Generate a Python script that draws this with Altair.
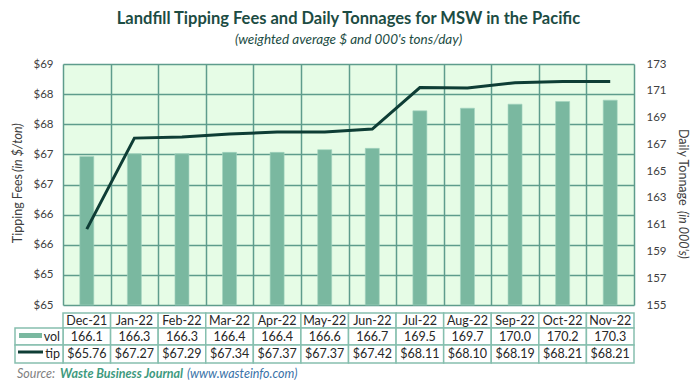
import altair as alt
import pandas as pd

months = ["Dec-21", "Jan-22", "Feb-22", "Mar-22", "Apr-22", "May-22",
          "Jun-22", "Jul-22", "Aug-22", "Sep-22", "Oct-22", "Nov-22"]
vol = [166.1, 166.3, 166.3, 166.4, 166.4, 166.6, 166.7, 169.5, 169.7, 170.0, 170.2, 170.3]
tip = [65.76, 67.27, 67.29, 67.34, 67.37, 67.37, 67.42, 68.11, 68.10, 68.19, 68.21, 68.21]
tip_ticks = [64.5, 65.0, 65.5, 66.0, 66.5, 67.0, 67.5, 68.0, 68.5]
vol_ticks = [155, 157, 159, 161, 163, 165, 167, 169, 171, 173]

df = pd.DataFrame({
    "month": months,
    "vol": vol,
    "tip": tip,
    "vol_label": [f"{v:.1f}" for v in vol],
    "tip_label": [f"${t:.2f}" for t in tip],
})
one = pd.DataFrame({"k": [0]})

FONT = "Lato"
GRID = "#5E9C8C"
TBL = "#86BFAF"
BAR = "#7AB8A0"
LINE = "#0E3D35"
TXT = "#262626"
LAB = "#404040"
TEAL_DARK = "#1C4C43"
TEAL = "#3E9A7E"
BLUE = "#3A72A8"

x_enc = alt.X(
    "month:N", sort=months,
    scale=alt.Scale(paddingInner=0, paddingOuter=0),
    axis=alt.Axis(grid=True, tickBand="extent", labels=False, ticks=False,
                  domain=False, title=None, gridColor=GRID, gridWidth=1.5),
)

base = alt.Chart(df)

bars = base.mark_bar(size=14, color=BAR, stroke="#A3D3C0", strokeWidth=0.6).encode(
    x=x_enc,
    y=alt.Y("vol:Q",
            scale=alt.Scale(domain=[155, 173], nice=False, zero=False),
            axis=alt.Axis(orient="right", values=vol_ticks, title=None, grid=False,
                          ticks=False, domain=False, labelPadding=12, labelFont=FONT,
                          labelFontSize=11.5, labelColor=LAB)),
    y2=alt.datum(155),
)

line = base.mark_line(color=LINE, strokeWidth=3).encode(
    x=x_enc,
    y=alt.Y("tip:Q",
            scale=alt.Scale(domain=[64.5, 68.5], nice=False, zero=False),
            axis=alt.Axis(orient="left", values=tip_ticks, format="$.0f", title=None,
                          grid=True, gridColor=GRID, gridWidth=1.5, ticks=False,
                          domain=False, labelPadding=10, labelFont=FONT,
                          labelFontSize=11.5, labelColor=LAB)),
)

# ---- data table under the plot ----
def cell(y0, y1):
    return base.mark_rect(fill="white", stroke=TBL, strokeWidth=1.5).encode(
        x=x_enc, y=alt.value(y0), y2=alt.value(y1))

hdr_cells = cell(249, 264)
vol_cells = cell(264, 281)
tip_cells = cell(281, 299)

lab_cells = alt.Chart(pd.DataFrame({"y0": [264, 281], "y1": [281, 299]})).mark_rect(
    fill="white", stroke=TBL, strokeWidth=1.5).encode(
    x=alt.value(-48), x2=alt.value(0),
    y=alt.Y("y0:Q", scale=None), y2="y1:Q")

txt = dict(font=FONT, fontSize=12.5, color=TXT, baseline="middle")
hdr_txt = base.mark_text(**txt).encode(x=x_enc, y=alt.value(256.5), text="month:N")
vol_txt = base.mark_text(**txt).encode(x=x_enc, y=alt.value(272.5), text="vol_label:N")
tip_txt = base.mark_text(**txt).encode(x=x_enc, y=alt.value(290), text="tip_label:N")

lab_vol = alt.Chart(one).mark_text(align="right", **txt).encode(
    x=alt.value(-3), y=alt.value(272.5), text=alt.value("vol"))
lab_tip = alt.Chart(one).mark_text(align="right", **txt).encode(
    x=alt.value(-3), y=alt.value(290), text=alt.value("tip"))
sw_vol = alt.Chart(one).mark_rect(color=BAR).encode(
    x=alt.value(-44), x2=alt.value(-21), y=alt.value(269), y2=alt.value(274))
sw_tip = alt.Chart(one).mark_rule(color=LINE, strokeWidth=3).encode(
    x=alt.value(-45), x2=alt.value(-20), y=alt.value(288))

# ---- axis titles (mixed styles) ----
at = dict(font=FONT, fontSize=12.5, color=LAB, baseline="middle")
lt1 = alt.Chart(one).mark_text(angle=270, align="right", **at).encode(
    x=alt.value(-45), y=alt.value(110), text=alt.value("Tipping Fees"))
lt2 = alt.Chart(one).mark_text(angle=270, align="left", fontStyle="italic", **at).encode(
    x=alt.value(-45), y=alt.value(108), text=alt.value("(in $/ton)"))
rt1 = alt.Chart(one).mark_text(angle=90, align="left", **at).encode(
    x=alt.value(620), y=alt.value(65), text=alt.value("Daily Tonnage"))
rt2 = alt.Chart(one).mark_text(angle=90, align="left", fontStyle="italic", **at).encode(
    x=alt.value(620), y=alt.value(147), text=alt.value("(in 000's)"))

# ---- source line ----
st = dict(font=FONT, fontSize=12.5, baseline="middle", align="left", fontStyle="italic")
s1 = alt.Chart(one).mark_text(color="#7F7F7F", **st).encode(
    x=alt.value(-46), y=alt.value(310), text=alt.value("Source:"))
s2 = alt.Chart(one).mark_text(color=TEAL, fontWeight="bold", **st).encode(
    x=alt.value(-3), y=alt.value(310), text=alt.value("Waste Business Journal"))
s3 = alt.Chart(one).mark_text(color=BLUE, **st).encode(
    x=alt.value(124), y=alt.value(310), text=alt.value("(www.wasteinfo.com)"))

chart = alt.layer(
    bars, line,
    hdr_cells, vol_cells, tip_cells, lab_cells,
    hdr_txt, vol_txt, tip_txt, lab_vol, lab_tip, sw_vol, sw_tip,
    lt1, lt2, rt1, rt2, s1, s2, s3,
).resolve_scale(y="independent").properties(
    width=571, height=241,
    autosize=alt.AutoSizeParams(type="none"),
    padding={"left": 55, "top": 56, "right": 58, "bottom": 78},
    title=alt.TitleParams(
        "Landfill Tipping Fees and Daily Tonnages for MSW in the Pacific",
        subtitle="(weighted average $ and 000's tons/day)",
        font=FONT, fontSize=16.5, fontWeight="bold", color=TEAL_DARK,
        subtitleFont=FONT, subtitleFontSize=13.5, subtitleFontStyle="italic",
        subtitleColor=TEAL_DARK, subtitlePadding=5, anchor="middle", offset=12,
    ),
).configure_view(fill="#E6FCE6", stroke=None)

chart.save("out.html", embed_options={"renderer": "svg", "actions": False})
